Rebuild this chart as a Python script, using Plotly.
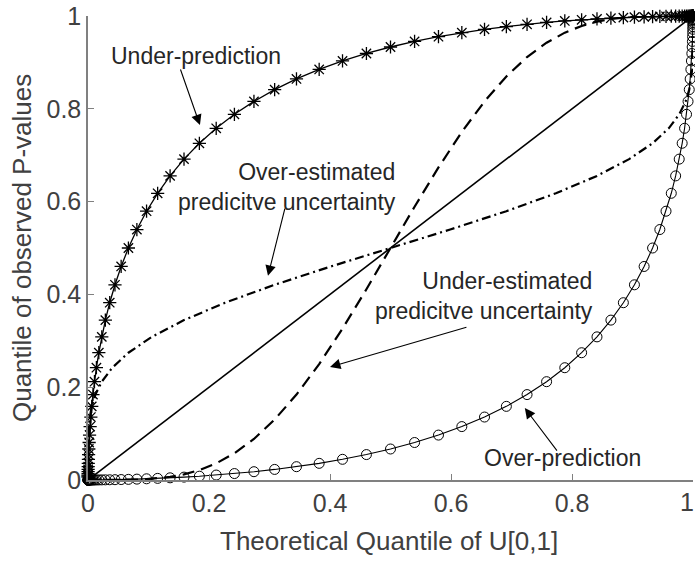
import plotly.graph_objects as go

# Theoretical quantiles of U[0,1] (shared x positions of the marker curves)
theo_q = [0.00003, 0.00005, 0.00007, 0.00011, 0.00016, 0.00023, 0.00034, 0.00048, 0.00069, 0.00097,
          0.00135, 0.0019, 0.0026, 0.0035, 0.0047, 0.0062, 0.0082, 0.0107, 0.0139, 0.0179,
          0.0228, 0.0287, 0.0359, 0.0446, 0.0548, 0.0668, 0.0808, 0.0968, 0.1151, 0.1357,
          0.1587, 0.1841, 0.2119, 0.2420, 0.2743, 0.3085, 0.3446, 0.3821, 0.4207, 0.4602,
          0.5,
          0.5398, 0.5793, 0.6179, 0.6554, 0.6915, 0.7257, 0.7580, 0.7881, 0.8159, 0.8413,
          0.8643, 0.8849, 0.9032, 0.9192, 0.9332, 0.9452, 0.9554, 0.9641, 0.9713, 0.9772,
          0.9821, 0.9861, 0.9893, 0.9918, 0.9938, 0.9953, 0.9965, 0.9974, 0.9981, 0.99865,
          0.99903, 0.99931, 0.99952, 0.99966, 0.99977, 0.99984, 0.99989, 0.99993, 0.99995, 0.99997]

under_pred_y = [0.0062, 0.0082, 0.0107, 0.0139, 0.0179, 0.0228, 0.0287, 0.0359, 0.0446, 0.0548,
                0.0668, 0.0808, 0.0968, 0.1151, 0.1357, 0.1587, 0.1841, 0.2119, 0.2420, 0.2743,
                0.3085, 0.3446, 0.3821, 0.4207, 0.4602, 0.5, 0.5398, 0.5793, 0.6179, 0.6554,
                0.6915, 0.7257, 0.7580, 0.7881, 0.8159, 0.8413, 0.8643, 0.8849, 0.9032, 0.9192,
                0.9332, 0.9452, 0.9554, 0.9641, 0.9713, 0.9772, 0.9821, 0.9861, 0.9893, 0.9918,
                0.9938, 0.9953, 0.9965, 0.9974, 0.9981, 0.99865, 0.99903, 0.99931, 0.99952, 0.99966,
                0.99977, 0.99984, 0.99989, 0.99993, 0.99995, 0.99997, 0.99998, 0.99999, 0.99999, 0.99999,
                1.0, 1.0, 1.0, 1.0, 1.0, 1.0, 1.0, 1.0, 1.0, 1.0, 1.0]

over_pred_y = [0.0, 0.0, 0.0, 0.0, 0.0, 0.0, 0.0, 0.0, 0.0, 0.0, 0.0,
               0.00001, 0.00001, 0.00001, 0.00002, 0.00003, 0.00005, 0.00007, 0.00011, 0.00016, 0.00023,
               0.00034, 0.00048, 0.00069, 0.00097, 0.00135, 0.0019, 0.0026, 0.0035, 0.0047, 0.0062,
               0.0082, 0.0107, 0.0139, 0.0179, 0.0228, 0.0287, 0.0359, 0.0446, 0.0548, 0.0668,
               0.0808, 0.0968, 0.1151, 0.1357, 0.1587, 0.1841, 0.2119, 0.2420, 0.2743, 0.3085,
               0.3446, 0.3821, 0.4207, 0.4602, 0.5, 0.5398, 0.5793, 0.6179, 0.6554, 0.6915,
               0.7257, 0.7580, 0.7881, 0.8159, 0.8413, 0.8643, 0.8849, 0.9032, 0.9192, 0.9332,
               0.9452, 0.9554, 0.9641, 0.9713, 0.9772, 0.9821, 0.9861, 0.9893, 0.9918, 0.9938]

# Under-estimated predictive uncertainty (dashed)
under_unc_x = [0.00003, 0.0228, 0.0287, 0.0359, 0.0446, 0.0548, 0.0668, 0.0808, 0.0968, 0.1151, 0.1357,
               0.1587, 0.1841, 0.2119, 0.2420, 0.2743, 0.3085, 0.3446, 0.3821, 0.4207, 0.4602,
               0.5, 0.5398, 0.5793, 0.6179, 0.6554, 0.6915, 0.7257, 0.7580, 0.7881, 0.8159,
               0.8413, 0.8643, 0.8849, 0.9032, 0.9192, 0.9332, 0.9452, 0.9554, 0.9641, 0.9713,
               0.9772, 0.99997]
under_unc_y = [0.0, 0.0, 0.00001, 0.00003, 0.00007, 0.0002, 0.0004, 0.0008, 0.0017, 0.0035, 0.0067,
               0.0122, 0.0214, 0.0359, 0.0576, 0.0885, 0.1303, 0.1841, 0.2499, 0.3264, 0.4110,
               0.5, 0.5890, 0.6736, 0.7501, 0.8159, 0.8697, 0.9115, 0.9424, 0.9641, 0.9786,
               0.9878, 0.9933, 0.9965, 0.9983, 0.9992, 0.9996, 0.9998, 0.9999, 1.0, 1.0,
               1.0, 1.0]

# Over-estimated predictive uncertainty (dash-dot)
over_unc_x = [0.00003, 0.00023, 0.00135, 0.0030, 0.0062, 0.0122, 0.0228, 0.0401, 0.0668, 0.1056,
              0.1587, 0.2266, 0.3085, 0.4013, 0.5, 0.5987, 0.6915, 0.7734, 0.8413, 0.8944,
              0.9332, 0.9599, 0.9772, 0.9878, 0.9938, 0.9970, 0.99865, 0.99977, 0.99997]
over_unc_y = [0.0548, 0.0808, 0.1151, 0.1357, 0.1587, 0.1841, 0.2119, 0.2420, 0.2743, 0.3085,
              0.3446, 0.3821, 0.4207, 0.4602, 0.5, 0.5398, 0.5793, 0.6179, 0.6554, 0.6915,
              0.7257, 0.7580, 0.7881, 0.8159, 0.8413, 0.8643, 0.8849, 0.9192, 0.9452]

diag_x = [0, 1]
diag_y = [0, 1]

tick_vals = [0, 0.2, 0.4, 0.6, 0.8, 1]
tick_text = ["0", "0.2", "0.4", "0.6", "0.8", "1"]

FONT = "Liberation Sans, Arial, sans-serif"
AXC = "#404040"
TXC = "#262626"

fig = go.Figure()
fig.add_trace(go.Scatter(x=diag_x, y=diag_y, mode="lines",
                         line=dict(color="black", width=1.6), showlegend=False))
fig.add_trace(go.Scatter(x=under_unc_x, y=under_unc_y, mode="lines",
                         line=dict(color="black", width=2.2, dash="12px,7px"), showlegend=False))
fig.add_trace(go.Scatter(x=over_unc_x, y=over_unc_y, mode="lines",
                         line=dict(color="black", width=2.2, dash="9px,4px,2px,4px"), showlegend=False))
fig.add_trace(go.Scatter(x=theo_q, y=under_pred_y, mode="lines+markers",
                         line=dict(color="black", width=1.3),
                         marker=dict(symbol="asterisk-open", size=11, color="black",
                                     line=dict(color="black", width=1.3)),
                         cliponaxis=False, showlegend=False))
fig.add_trace(go.Scatter(x=theo_q, y=over_pred_y, mode="lines+markers",
                         line=dict(color="black", width=1.1),
                         marker=dict(symbol="circle-open", size=10, color="black",
                                     line=dict(color="black", width=1)),
                         cliponaxis=False, showlegend=False))

annotations = [
    dict(x=0.179, y=0.914, text="Under-prediction", showarrow=False,
         xanchor="center", yanchor="middle"),
    dict(x=0.512, y=0.631, text="Over-estimated<br>predicitve uncertainty", showarrow=False,
         xanchor="right", yanchor="middle", align="right"),
    dict(x=0.838, y=0.397, text="Under-estimated<br>predicitve uncertainty", showarrow=False,
         xanchor="right", yanchor="middle", align="right"),
    dict(x=0.7835, y=0.047, text="Over-prediction", showarrow=False,
         xanchor="center", yanchor="middle"),
]
arrows = [
    ((0.152, 0.888), (0.185, 0.765)),
    ((0.326, 0.588), (0.2975, 0.440)),
    ((0.628, 0.330), (0.400, 0.2435)),
    ((0.777, 0.060), (0.722, 0.155)),
]
for a in annotations:
    a.update(xref="x", yref="y", font=dict(family=FONT, size=23, color=TXC))
for (tx, ty), (hx, hy) in arrows:
    annotations.append(dict(x=hx, y=hy, ax=tx, ay=ty, xref="x", yref="y", axref="x", ayref="y",
                            text="", showarrow=True, arrowhead=2, arrowsize=1.9, arrowwidth=1.1,
                            arrowcolor="black", standoff=0, startstandoff=0))

# axis titles as paper-anchored text
annotations.append(dict(xref="paper", yref="paper", x=-0.109, y=0.5, textangle=-90,
                        text="Quantile of observed P-values", showarrow=False,
                        xanchor="center", yanchor="middle",
                        font=dict(family=FONT, size=26, color=AXC)))
annotations.append(dict(xref="paper", yref="paper", x=0.4975, y=-0.131,
                        text="Theoretical Quantile of U[0,1]", showarrow=False,
                        xanchor="center", yanchor="middle",
                        font=dict(family=FONT, size=26, color=AXC)))
# last x tick label, kept inside the page edge
annotations.append(dict(xref="paper", yref="paper", x=1.0033, y=-0.047,
                        text=tick_text[-1], showarrow=False, borderpad=0,
                        xanchor="right", yanchor="middle",
                        font=dict(family=FONT, size=25, color=AXC)))

x_tick_text = tick_text[:-1] + [""]

axis_common = dict(range=[0, 1], tickvals=tick_vals, ticks="inside",
                   ticklen=6, tickwidth=1, tickcolor="#808080", showline=True,
                   linecolor="#808080", linewidth=1.5, showgrid=False, zeroline=False,
                   automargin=False,
                   tickfont=dict(family=FONT, size=25, color=AXC))

fig.update_layout(
    width=695, height=565,
    margin=dict(l=88, r=2, t=16, b=85),
    paper_bgcolor="white", plot_bgcolor="white",
    xaxis=dict(axis_common, ticktext=x_tick_text),
    yaxis=dict(axis_common, ticktext=tick_text),
    annotations=annotations,
)

fig.write_html("out.html", config={"displayModeBar": False},
               post_script="document.body.style.margin='0px';document.body.style.overflow='hidden';")
